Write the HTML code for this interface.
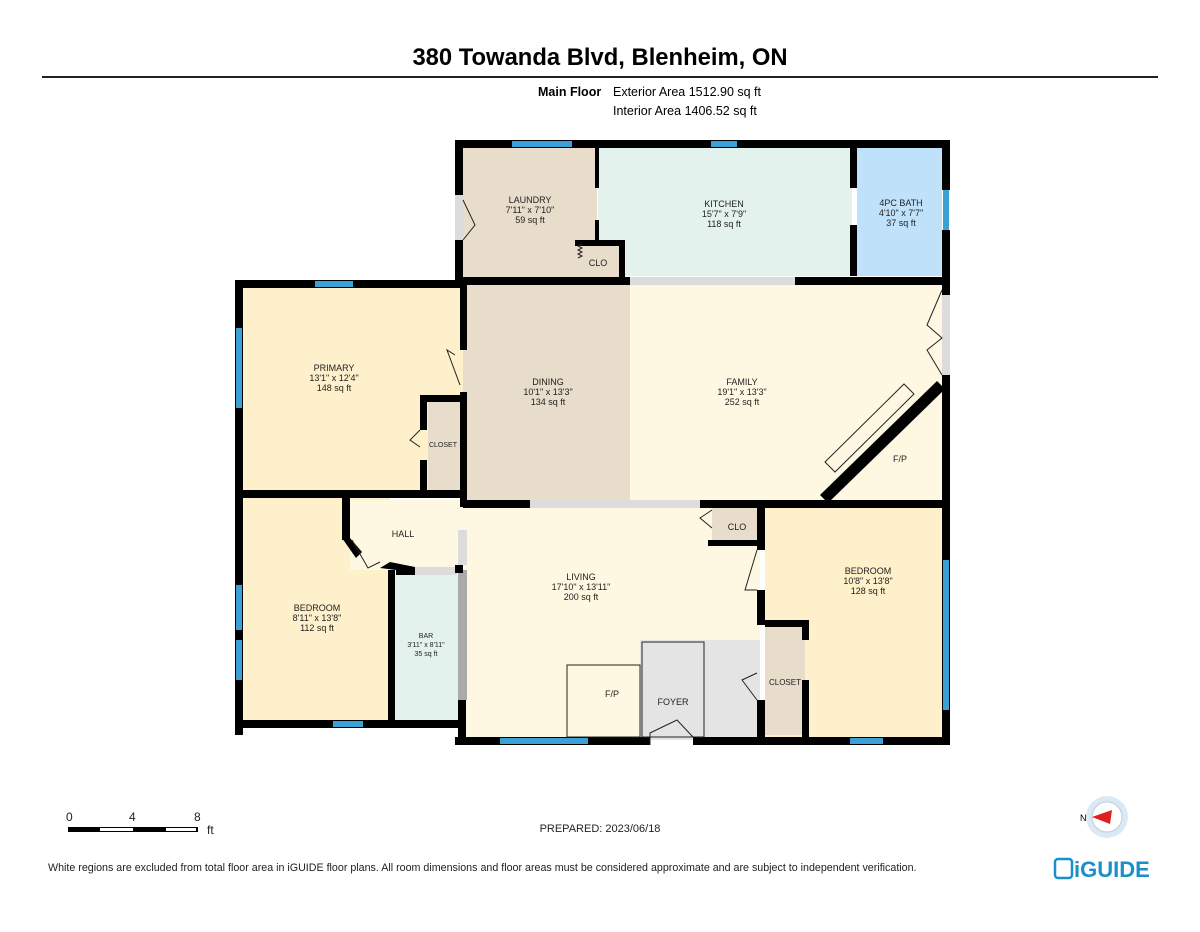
<!DOCTYPE html><html><head><style>
body{margin:0;width:1200px;height:927px;background:#fff;font-family:"Liberation Sans",sans-serif;overflow:hidden}
</style></head><body>
<svg width="1200" height="927" viewBox="0 0 1200 927" font-family="Liberation Sans, sans-serif">
<text x="600" y="65" text-anchor="middle" font-size="23.8" font-weight="bold">380 Towanda Blvd, Blenheim, ON</text>
<rect x="42" y="76" width="1116" height="2" fill="#222"/>
<text x="538" y="96" font-size="12.5" font-weight="bold">Main Floor</text>
<text x="613" y="96" font-size="12.5">Exterior Area 1512.90 sq ft</text>
<text x="613" y="115" font-size="12.5">Interior Area 1406.52 sq ft</text>
<rect x="463" y="148" width="134" height="130" fill="#e8dccb"/>
<rect x="598" y="148" width="254" height="128" fill="#e3f2ec"/>
<rect x="857" y="148" width="85" height="128" fill="#bfe2fa"/>
<rect x="243" y="288" width="220" height="202" fill="#fdf0cb"/>
<rect x="463" y="285" width="167" height="215" fill="#e8dccb"/>
<rect x="630" y="285" width="312" height="215" fill="#fef8e2"/>
<rect x="243" y="497" width="147" height="225" fill="#fdf0cb"/>
<rect x="350" y="500" width="113" height="70" fill="#fef8e2"/>
<rect x="393" y="575" width="67" height="145" fill="#e3f2ec"/>
<rect x="463" y="508" width="297" height="232" fill="#fef8e2"/>
<rect x="640" y="640" width="120" height="100" fill="#e4e4e4"/>
<rect x="765" y="508" width="177" height="230" fill="#fdf0cb"/>
<rect x="765" y="627" width="40" height="108" fill="#e8dccb"/>
<rect x="712" y="508" width="48" height="37" fill="#e8dccb"/>
<rect x="428" y="400" width="32" height="90" fill="#e8dccb"/>
<rect x="580" y="245" width="40" height="33" fill="#e8dccb"/>
<polygon points="942,385 942,500 822,500" fill="#fef8e2"/>
<g fill="#dcdcdc">
<rect x="630" y="277" width="165" height="8"/>
<rect x="530" y="500" width="170" height="8"/>
<rect x="415" y="567" width="42" height="8"/>
<rect x="458" y="530" width="9" height="35"/>
<rect x="942" y="295" width="8" height="80"/>
<rect x="455" y="195" width="8" height="45"/>
</g>
<rect x="458" y="570" width="9" height="130" fill="#aaa"/>
<g fill="#000">
<rect x="455" y="140" width="495" height="8"/>
<rect x="455" y="140" width="8" height="55"/><rect x="455" y="240" width="8" height="45"/>
<rect x="942" y="140" width="8" height="50"/><rect x="942" y="230" width="8" height="65"/>
<rect x="942" y="375" width="8" height="370"/>
<rect x="850" y="148" width="7" height="40"/><rect x="850" y="225" width="7" height="51"/>
<rect x="595" y="148" width="4" height="40"/><rect x="595" y="220" width="4" height="25"/>
<rect x="575" y="240" width="50" height="6"/><rect x="619" y="240" width="6" height="38"/>
<rect x="455" y="277" width="175" height="8"/><rect x="795" y="277" width="155" height="8"/>
<rect x="235" y="280" width="228" height="8"/>
<rect x="235" y="280" width="8" height="455"/>
<rect x="460" y="285" width="7" height="65"/><rect x="460" y="392" width="7" height="115"/>
<rect x="420" y="395" width="44" height="7"/><rect x="420" y="395" width="7" height="35"/><rect x="420" y="460" width="7" height="35"/>
<rect x="235" y="490" width="228" height="8"/>
<rect x="463" y="500" width="67" height="8"/><rect x="700" y="500" width="242" height="8"/>
<rect x="342" y="497" width="8" height="43"/>
<polygon points="342,538 350,538 362,552 356,558"/>
<polygon points="380,568 390,562 415,567 415,575 396,575 396,570"/>
<rect x="388" y="570" width="7" height="152"/>
<rect x="235" y="720" width="228" height="8"/>
<rect x="455" y="565" width="8" height="8"/>
<rect x="458" y="700" width="8" height="45"/>
<rect x="455" y="737" width="195" height="8"/><rect x="693" y="737" width="257" height="8"/>
<rect x="757" y="505" width="8" height="45"/><rect x="757" y="590" width="8" height="35"/><rect x="757" y="700" width="8" height="40"/>
<rect x="708" y="540" width="57" height="6"/>
<rect x="765" y="620" width="42" height="7"/><rect x="802" y="620" width="7" height="20"/><rect x="802" y="680" width="7" height="60"/>
<polygon points="937,381 945,389 828,503 820,495"/>
</g>
<g fill="#3aa0d5">
<rect x="512" y="141" width="60" height="6"/><rect x="711" y="141" width="26" height="6"/>
<rect x="943" y="190" width="6" height="40"/>
<rect x="315" y="281" width="38" height="6"/>
<rect x="236" y="328" width="6" height="80"/>
<rect x="236" y="585" width="6" height="45"/><rect x="236" y="640" width="6" height="40"/>
<rect x="333" y="721" width="30" height="6"/>
<rect x="500" y="738" width="88" height="6"/>
<rect x="943" y="560" width="6" height="150"/>
<rect x="850" y="738" width="33" height="6"/>
</g>
<g fill="none" stroke="#222" stroke-width="1">
<polygon points="825,462 904,384 914,394 835,472"/>
<rect x="567" y="665" width="73" height="72"/>
<rect x="642" y="642" width="62" height="95"/>
<path d="M463,200 L475,225 L463,240"/>
<path d="M455,355 L447,350 L460,385"/>
<path d="M420,430 L410,440 L420,447"/>
<path d="M352,540 L368,568 L380,562"/>
<path d="M757,550 L745,590 L757,590"/>
<path d="M757,673 L742,680 L757,700"/>
<path d="M712,510 L700,518 L712,528"/>
<path d="M650,745 L650,733 L677,720 L693,737"/>
<path d="M942,290 L927,325 L942,338 L927,350 L942,375"/>
<path d="M578,258 l4,-2 -4,-2 4,-2 -4,-2 4,-2 -4,-2 4,-2"/>
</g>
<g font-size="9" text-anchor="middle" fill="#222">
<text x="530" y="203">LAUNDRY</text><text x="530" y="213">7'11" x 7'10"</text><text x="530" y="223">59 sq ft</text>
<text x="724" y="207">KITCHEN</text><text x="724" y="217">15'7" x 7'9"</text><text x="724" y="227">118 sq ft</text>
<text x="901" y="206">4PC BATH</text><text x="901" y="216">4'10" x 7'7"</text><text x="901" y="226">37 sq ft</text>
<text x="598" y="266">CLO</text>
<text x="334" y="371">PRIMARY</text><text x="334" y="381">13'1" x 12'4"</text><text x="334" y="391">148 sq ft</text>
<text x="548" y="385">DINING</text><text x="548" y="395">10'1" x 13'3"</text><text x="548" y="405">134 sq ft</text>
<text x="742" y="385">FAMILY</text><text x="742" y="395">19'1" x 13'3"</text><text x="742" y="405">252 sq ft</text>
<text x="443" y="447" font-size="7">CLOSET</text>
<text x="900" y="462">F/P</text>
<text x="403" y="537">HALL</text>
<text x="737" y="530">CLO</text>
<text x="317" y="611">BEDROOM</text><text x="317" y="621">8'11" x 13'8"</text><text x="317" y="631">112 sq ft</text>
<text x="426" y="638" font-size="7">BAR</text><text x="426" y="647" font-size="7">3'11" x 8'11"</text><text x="426" y="656" font-size="7">35 sq ft</text>
<text x="581" y="580">LIVING</text><text x="581" y="590">17'10" x 13'11"</text><text x="581" y="600">200 sq ft</text>
<text x="868" y="574">BEDROOM</text><text x="868" y="584">10'8" x 13'8"</text><text x="868" y="594">128 sq ft</text>
<text x="785" y="685" font-size="8">CLOSET</text>
<text x="612" y="697">F/P</text>
<text x="673" y="705">FOYER</text>
</g>
<g font-size="12" fill="#222">
<text x="66" y="821">0</text><text x="129" y="821">4</text><text x="194" y="821">8</text><text x="207" y="834">ft</text>
<rect x="68" y="827" width="130" height="5" fill="#000"/>
<rect x="100" y="828" width="33" height="3" fill="#fff"/><rect x="166" y="828" width="30" height="3" fill="#fff"/>
<text x="600" y="832" text-anchor="middle" font-size="11">PREPARED: 2023/06/18</text>
<text x="48" y="871" font-size="10.7">White regions are excluded from total floor area in iGUIDE floor plans. All room dimensions and floor areas must be considered approximate and are subject to independent verification.</text>
</g>
<circle cx="1107" cy="817" r="21" fill="#dbe9f5"/><circle cx="1107" cy="817" r="15" fill="#fff" stroke="#bcd" />
<polygon points="1092,817 1112,810 1110,824" fill="#e02020"/>
<text x="1080" y="821" font-size="9">N</text>
<rect x="1055" y="859" width="17" height="19" rx="3" fill="none" stroke="#1a8fc9" stroke-width="2.5"/>
<text x="1074" y="877" font-size="22" font-weight="bold" fill="#1a8fc9">iGUIDE</text>
</svg>
</body></html>
